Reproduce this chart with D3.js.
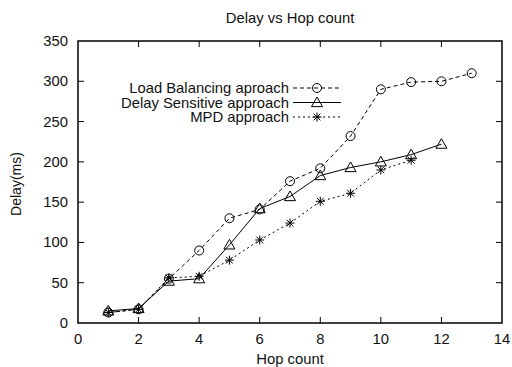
<!DOCTYPE html>
<html><head><meta charset="utf-8">
<script src="https://cdn.jsdelivr.net/npm/d3@7"></script>
<style>body{margin:0;background:#fff}svg{display:block}text{font-family:"Liberation Sans",Arial,sans-serif;fill:#111}</style>
</head><body>
<svg id="c" width="512" height="367"></svg>
<script>
const hops = [1,2,3,4,5,6,7,8,9,10,11,12,13];
const loadBalancing = [13,17,55,90,130,141,176,192,232,290,299,300,310];
const delaySensitive = [15,18,52,55,97,142,157,183,193,200,209,222];
const mpd = [13,17,56,58,78,103,124,151,161,190,202];
const seriesNames = ["Load Balancing aproach","Delay Sensitive approach","MPD approach"];
const xTicks = [0,2,4,6,8,10,12,14];
const yTicks = [0,50,100,150,200,250,300,350];

const svg = d3.select("#c");
const L=78, R=502, T=41, B=323;
const x = d3.scaleLinear().domain([0,14]).range([L,R]);
const y = d3.scaleLinear().domain([0,350]).range([B,T]);
const FS = 14, SX = 1.06;

function label(px, py, str, anchor, dy){
  const t = svg.append("text")
    .attr("transform",`translate(${px},${py}) scale(${SX},1)`)
    .attr("text-anchor",anchor).style("font-size",FS+"px").text(str);
  if(dy) t.attr("dy",dy);
  return t;
}

// ticks (inward, mirrored)
const g = svg.append("g");
xTicks.forEach(t=>{
  if(t>0 && t<14){
    g.append("line").attr("x1",x(t)).attr("x2",x(t)).attr("y1",B).attr("y2",B-6).attr("stroke","#000").attr("stroke-width",1);
    g.append("line").attr("x1",x(t)).attr("x2",x(t)).attr("y1",T).attr("y2",T+6).attr("stroke","#000").attr("stroke-width",1);
  }
  label(x(t), B+21, t, "middle");
});
yTicks.forEach(t=>{
  if(t>0 && t<350){
    g.append("line").attr("x1",L).attr("x2",L+6).attr("y1",y(t)).attr("y2",y(t)).attr("stroke","#000").attr("stroke-width",1);
    g.append("line").attr("x1",R).attr("x2",R-6).attr("y1",y(t)).attr("y2",y(t)).attr("stroke","#000").attr("stroke-width",1);
  }
  label(L-10, y(t), t, "end", "0.36em");
});
svg.append("rect").attr("x",L).attr("y",T).attr("width",R-L).attr("height",B-T).attr("fill","none").attr("stroke","#000").attr("stroke-width",1.5);

// titles
label((L+R)/2, 23, "Delay vs Hop count", "middle");
label((L+R)/2, 364, "Hop count", "middle");
svg.append("text").attr("transform",`translate(21,184) rotate(-90)`).attr("text-anchor","middle").style("font-size",FS+"px").text("Delay(ms)");

const line = d3.line().x(d=>x(d[0])).y(d=>y(d[1]));
const styles = [
  {data: loadBalancing, dash:"4,3", marker:"circle"},
  {data: delaySensitive, dash:null, marker:"triangle"},
  {data: mpd, dash:"2,3", marker:"star"}
];
function drawMarker(sel, type, cx, cy){
  if(type==="circle"){
    sel.append("circle").attr("cx",cx).attr("cy",cy).attr("r",4.5).attr("fill","none").attr("stroke","#000").attr("stroke-width",1);
  } else if(type==="triangle"){
    const s=5.5;
    sel.append("path").attr("d",`M${cx},${cy-s}L${cx+s},${cy+s*0.75}L${cx-s},${cy+s*0.75}Z`).attr("fill","none").attr("stroke","#000").attr("stroke-width",1);
  } else {
    const s=4.5;
    sel.append("path").attr("d",`M${cx-s},${cy}H${cx+s}M${cx},${cy-s}V${cy+s}M${cx-s*0.75},${cy-s*0.75}L${cx+s*0.75},${cy+s*0.75}M${cx-s*0.75},${cy+s*0.75}L${cx+s*0.75},${cy-s*0.75}`).attr("fill","none").attr("stroke","#000").attr("stroke-width",1);
  }
}
styles.forEach((s,i)=>{
  const pts = s.data.map((v,j)=>[hops[j],v]);
  const p = svg.append("path").attr("d",line(pts)).attr("fill","none").attr("stroke","#000").attr("stroke-width",1);
  if(s.dash) p.attr("stroke-dasharray",s.dash);
  const mg = svg.append("g");
  pts.forEach(d=>drawMarker(mg,s.marker,x(d[0]),y(d[1])));
  // legend
  const ly = 88 + i*14.5;
  label(289, ly, seriesNames[i], "end", "0.36em");
  const ll = svg.append("line").attr("x1",293).attr("x2",341).attr("y1",ly).attr("y2",ly).attr("stroke","#000").attr("stroke-width",1);
  if(s.dash) ll.attr("stroke-dasharray",s.dash);
  drawMarker(svg,s.marker,317,ly);
});
</script>
</body></html>
